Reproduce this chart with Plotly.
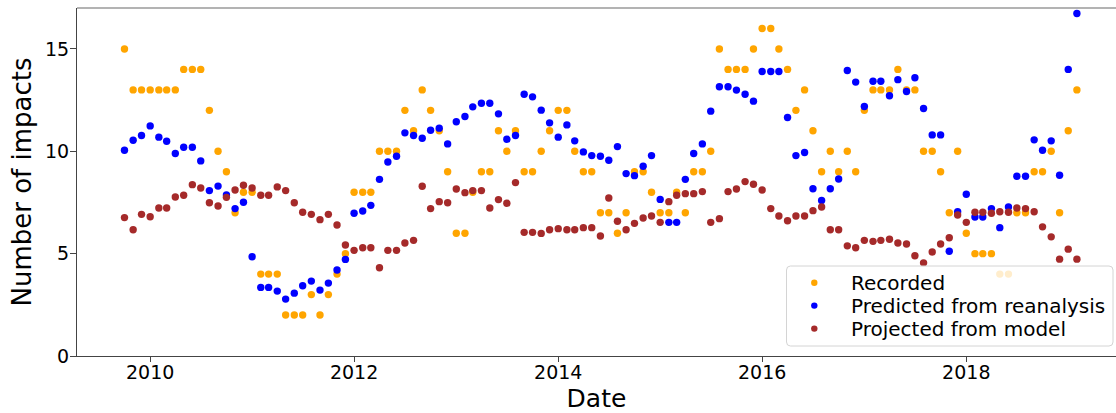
import pandas as pd
import plotly.graph_objects as go

# Monthly series, Oct 2009 - Feb 2019
start_month = "2009-10-01"
n_months = 113
dates = pd.date_range(start_month, periods=n_months, freq="MS")

recorded = [
    15, 13, 13, 13, 13, 13, 13, 14, 14, 14,
    12, 10, 9, 7, 8, 8, 4, 4, 4, 2,
    2, 2, 3, 2, 3, 4, 5, 8, 8, 8,
    10, 10, 10, 12, 11, 13, 12, 11, 9, 6,
    6, 8, 9, 9, 11, 10, 11, 9, 9, 10,
    11, 12, 12, 10, 9, 9, 7, 7, 6, 7,
    9, 9, 8, 7, 7, 8, 7, 9, 9, 10,
    15, 14, 14, 14, 15, 16, 16, 15, 14, 12,
    13, 11, 9, 10, 9, 10, 9, 12, 13, 13,
    13, 14, 13, 13, 10, 10, 9, 7, 10, 6,
    5, 5, 5, 4, 4, 7, 7, 9, 9, 10,
    7, 11, 13,
]

predicted_reanalysis = [
    10.05, 10.54, 10.77, 11.24, 10.69, 10.49, 9.89, 10.2, 10.2, 9.53,
    8.08, 8.3, 7.87, 7.2, 7.51, 4.85, 3.35, 3.35, 3.17, 2.78,
    3.07, 3.43, 3.66, 3.22, 3.56, 4.2, 4.72, 6.97, 7.08, 7.36,
    8.63, 9.48, 9.76, 10.9, 10.77, 10.64, 11.03, 11.13, 10.36, 11.44,
    11.7, 12.17, 12.35, 12.35, 11.83, 10.59, 10.77, 12.79, 12.66, 12.01,
    11.39, 10.69, 11.29, 10.51, 9.97, 9.79, 9.76, 9.56, 10.23, 8.91,
    8.81, 9.27, 9.79, 7.65, 6.53, 6.53, 8.63, 9.89, 10.36, 11.96,
    13.15, 13.15, 12.99, 12.79, 12.45, 13.9, 13.9, 13.9, 11.65, 9.79,
    9.94, 8.17, 7.6, 8.17, 8.65, 13.95, 13.38, 12.19, 13.42, 13.42,
    12.71, 13.5, 12.92, 13.59, 12.09, 10.8, 10.8, 5.12, 7.05, 7.9,
    6.79, 6.79, 7.2, 6.27, 7.28, 8.78, 8.78, 10.56, 10.05, 10.51,
    8.83, 14.0, 16.73,
]

projected_model = [
    6.76, 6.17, 6.92, 6.8, 7.23, 7.23, 7.77, 7.85, 8.37, 8.21,
    7.49, 7.33, 7.75, 8.11, 8.34, 8.21, 7.85, 7.85, 8.26, 8.08,
    7.49, 7.02, 6.92, 6.66, 6.92, 6.4, 5.42, 5.16, 5.29, 5.29,
    4.31, 5.16, 5.16, 5.52, 5.65, 8.29, 7.2, 7.54, 7.49, 8.16,
    7.98, 8.08, 8.08, 7.23, 7.64, 7.46, 8.47, 6.04, 6.04, 5.99,
    6.17, 6.22, 6.17, 6.17, 6.27, 6.27, 5.86, 7.72, 6.58, 6.17,
    6.48, 6.74, 6.84, 6.53, 7.54, 7.85, 7.93, 7.93, 8.03, 6.53,
    6.71, 8.03, 8.16, 8.52, 8.39, 8.11, 7.2, 6.84, 6.61, 6.84,
    6.84, 7.1, 7.28, 6.17, 6.17, 5.38, 5.29, 5.65, 5.6, 5.65,
    5.7, 5.52, 5.47, 4.9, 4.55, 5.08, 5.47, 5.78, 6.89, 6.53,
    7.02, 7.02, 6.97, 7.05, 7.02, 7.23, 7.2, 7.05, 6.31, 5.82,
    4.73, 5.22, 4.73,
]

y_ticks = [0, 5, 10, 15]

FONT = "DejaVu Sans"
AXIS_COLOR = "#444444"

# Figure / plot-area geometry in pixels
W, H = 1116, 413
M_L, M_R, M_T, M_B = 77, 0, 8, 57
PLOT_W = W - M_L - M_R
PLOT_H = H - M_T - M_B


def px_x(px):
    """Horizontal pixel position -> paper coordinate."""
    return (px - M_L) / PLOT_W


def px_y(py):
    """Vertical pixel position (from top) -> paper coordinate."""
    return (H - M_B - py) / PLOT_H


series = [
    ("Recorded", recorded, "orange"),
    ("Predicted from reanalysis", predicted_reanalysis, "blue"),
    ("Projected from model", projected_model, "brown"),
]

fig = go.Figure()
for name, values, color in series:
    fig.add_trace(go.Scatter(
        x=dates, y=values, mode="markers", name=name,
        marker=dict(color=color, size=7.4, line=dict(width=0)),
        showlegend=False,
    ))

shapes = []
annotations = []

# Legend box with rounded corners, semi-transparent so marks behind stay faintly visible
bx0, bx1, by0, by1, r = 786.5, 1113, 266, 346, 4
rx, ry = r / PLOT_W, r / PLOT_H
X0, X1, Y0, Y1 = px_x(bx0), px_x(bx1), px_y(by1), px_y(by0)
box_path = (
    f"M {X0 + rx},{Y1} L {X1 - rx},{Y1} Q {X1},{Y1} {X1},{Y1 - ry} "
    f"L {X1},{Y0 + ry} Q {X1},{Y0} {X1 - rx},{Y0} "
    f"L {X0 + rx},{Y0} Q {X0},{Y0} {X0},{Y0 + ry} "
    f"L {X0},{Y1 - ry} Q {X0},{Y1} {X0 + rx},{Y1} Z"
)
shapes.append(dict(
    type="path", path=box_path, xref="paper", yref="paper", layer="above",
    fillcolor="rgba(255,255,255,0.8)", line=dict(color="#d4d4d4", width=1),
))

legend_rows = [282.7, 305.6, 328.6]
for (name, _, color), ry_px in zip(series, legend_rows):
    shapes.append(dict(
        type="circle", xref="paper", yref="paper", layer="above",
        xsizemode="pixel", ysizemode="pixel",
        xanchor=px_x(814.3), yanchor=px_y(ry_px),
        x0=-3.2, x1=3.2, y0=-3.2, y1=3.2,
        fillcolor=color, line=dict(width=0),
    ))
    annotations.append(dict(
        text=name, xref="paper", yref="paper",
        x=px_x(849), y=px_y(ry_px + 0.5), xanchor="left", yanchor="middle",
        showarrow=False, font=dict(family=FONT, size=20, color="black"),
    ))

# Top frame line
shapes.append(dict(
    type="line", xref="paper", yref="paper", x0=0, x1=1, y0=1, y1=1,
    line=dict(color="#9a9a9a", width=1.5), layer="above",
))

fig.update_layout(
    width=W, height=H,
    margin=dict(l=M_L, r=M_R, t=M_T, b=M_B),
    paper_bgcolor="white", plot_bgcolor="white",
    font=dict(family=FONT, color="black"),
    showlegend=False,
    shapes=shapes,
    annotations=annotations,
)

fig.update_xaxes(
    type="date", range=["2009-04-14", "2019-06-21"],
    tick0="2010-01-01", dtick="M24", tickformat="%Y",
    showgrid=False, zeroline=False,
    showline=True, linecolor=AXIS_COLOR, linewidth=1,
    ticks="outside", ticklen=5, tickwidth=1, tickcolor=AXIS_COLOR,
    ticklabelstandoff=-6,
    tickfont=dict(family=FONT, size=19, color="black"),
    title=dict(text="Date", font=dict(family=FONT, size=25, color="black"), standoff=13),
)
fig.update_yaxes(
    range=[0, 17], tickvals=y_ticks,
    showgrid=False, zeroline=False,
    showline=True, linecolor=AXIS_COLOR, linewidth=1,
    ticks="outside", ticklen=6, tickwidth=1, tickcolor=AXIS_COLOR,
    ticklabelstandoff=-3,
    tickfont=dict(family=FONT, size=19, color="black"),
    title=dict(text="Number of impacts", font=dict(family=FONT, size=26, color="black"), standoff=5),
)

fig.write_html("out.html")
